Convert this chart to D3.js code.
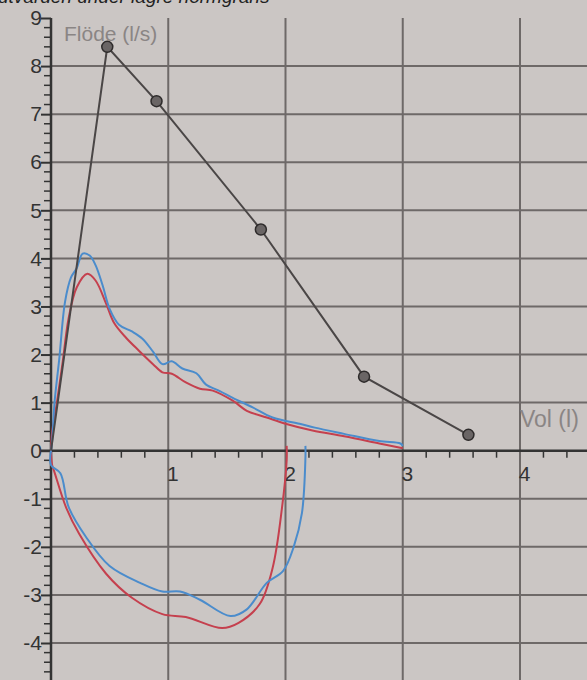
<!DOCTYPE html>
<html>
<head>
<meta charset="utf-8">
<script src="https://cdn.jsdelivr.net/npm/d3@7"></script>
<style>
  html, body { margin: 0; padding: 0; background: #cbc6c4; }
  svg { display: block; }
</style>
</head>
<body>
<div id="chart"></div>
<script>
// tick values
const xTicks = [1, 2, 3, 4];
const yTicks = [-4, -3, -2, -1, 0, 1, 2, 3, 4, 5, 6, 7, 8, 9];

// predicted (normal) curve, first point is the origin
const predVol = [0, 0.48, 0.9, 1.79, 2.67, 3.56];
const predFlow = [0, 8.4, 7.27, 4.6, 1.54, 0.33];

// red attempt
const redExpVol = [0, 0.01, 0.05, 0.1, 0.15, 0.22, 0.31, 0.38, 0.47, 0.54, 0.64, 0.75, 0.87, 0.95, 1.03, 1.15, 1.27, 1.38, 1.55, 1.67, 1.84, 2.0, 2.23, 2.5, 2.8, 3.0];
const redExpFlow = [0, 0.4, 1.0, 1.85, 2.75, 3.4, 3.68, 3.54, 3.06, 2.65, 2.35, 2.08, 1.8, 1.63, 1.6, 1.42, 1.29, 1.25, 1.04, 0.83, 0.69, 0.56, 0.42, 0.3, 0.15, 0.05];
const redInsVol = [0, 0.01, 0.03, 0.13, 0.24, 0.47, 0.69, 0.95, 1.15, 1.46, 1.6, 1.78, 1.89, 1.97, 2.01, 2.01];
const redInsFlow = [0, -0.3, -0.45, -1.19, -1.73, -2.56, -3.06, -3.4, -3.46, -3.69, -3.58, -3.19, -2.44, -1.19, -0.2, 0.1];

// blue attempt
const blueExpVol = [0, 0.01, 0.03, 0.07, 0.12, 0.17, 0.22, 0.27, 0.33, 0.38, 0.44, 0.5, 0.58, 0.69, 0.78, 0.87, 0.95, 1.03, 1.12, 1.24, 1.32, 1.44, 1.55, 1.72, 1.89, 2.12, 2.25, 2.5, 2.8, 2.98, 3.0];
const blueExpFlow = [0, 0.2, 1.0, 1.9, 3.1, 3.6, 3.8, 4.1, 4.06, 3.86, 3.44, 2.95, 2.62, 2.48, 2.33, 2.06, 1.8, 1.86, 1.71, 1.61, 1.38, 1.24, 1.1, 0.9, 0.69, 0.56, 0.48, 0.35, 0.2, 0.15, 0.1];
const blueInsVol = [0, 0.0, 0.08, 0.15, 0.3, 0.5, 0.76, 0.95, 1.1, 1.27, 1.53, 1.67, 1.84, 1.98, 2.07, 2.14, 2.17, 2.17];
const blueInsFlow = [0, -0.3, -0.47, -1.17, -1.8, -2.4, -2.75, -2.93, -2.93, -3.1, -3.44, -3.3, -2.75, -2.5, -2.0, -1.3, -0.15, 0.1];

const width = 587;
const height = 680;
const font = "Liberation Sans, Arial, sans-serif";

const svg = d3.select("#chart")
    .append("svg")
    .attr("width", width)
    .attr("height", height);

// scales
const x = d3.scaleLinear().domain([0, 4]).range([51, 520]);
const y = d3.scaleLinear().domain([-4, 9]).range([643, 18]);

// cut-off heading at top
svg.append("text")
    .attr("x", -2)
    .attr("y", 3)
    .style("font-family", font)
    .style("font-size", "19px")
    .style("font-style", "italic")
    .attr("fill", "#222")
    .text("utvärden under lägre normgräns");

// grid
const grid = svg.append("g").attr("stroke", "#6e6968").attr("stroke-width", 2);
grid.selectAll("line.v")
    .data(xTicks)
    .join("line")
    .attr("x1", d => x(d)).attr("x2", d => x(d))
    .attr("y1", 18).attr("y2", height);
grid.selectAll("line.h")
    .data(yTicks.filter(d => d !== 0 && d !== 9))
    .join("line")
    .attr("x1", x(0)).attr("x2", width)
    .attr("y1", d => y(d)).attr("y2", d => y(d));

// minor ticks
const yMinor = d3.range(-4.8, 9.01, 0.2).filter(d => Math.abs(d - Math.round(d)) > 0.01);
const xMinor = d3.range(0.2, 4.61, 0.2).filter(d => Math.abs(d - Math.round(d)) > 0.01);

// y axis
const yAxis = svg.append("g")
    .attr("transform", `translate(${x(0)},0)`)
    .call(d3.axisLeft(y).tickValues(yTicks).tickSize(10).tickFormat(d => String(d)));
yAxis.select(".domain").remove();
yAxis.append("line")
    .attr("x1", 0).attr("x2", 0)
    .attr("y1", y(9)).attr("y2", height)
    .attr("stroke", "#333").attr("stroke-width", 2.5);
yAxis.selectAll(".minor")
    .data(yMinor)
    .join("line")
    .attr("x1", -7).attr("x2", 0)
    .attr("y1", d => y(d)).attr("y2", d => y(d))
    .attr("stroke", "#333").attr("stroke-width", 1.5);
yAxis.selectAll(".tick line").attr("stroke", "#333").attr("stroke-width", 2);
yAxis.selectAll(".tick text")
    .attr("x", -9)
    .style("font-family", font)
    .style("font-size", "21px")
    .attr("fill", "#333");

// x axis
const xAxis = svg.append("g")
    .attr("transform", `translate(0,${y(0)})`)
    .call(d3.axisBottom(x).tickValues(xTicks).tickSize(0).tickPadding(15).tickFormat(d => String(d)));
xAxis.select(".domain").remove();
xAxis.append("line")
    .attr("x1", x(0) - 10).attr("x2", width)
    .attr("y1", 0).attr("y2", 0)
    .attr("stroke", "#333").attr("stroke-width", 2.5);
xAxis.selectAll(".minor")
    .data(xMinor)
    .join("line")
    .attr("x1", d => x(d)).attr("x2", d => x(d))
    .attr("y1", 0).attr("y2", 7)
    .attr("stroke", "#333").attr("stroke-width", 1.5);
xAxis.selectAll(".tick text")
    .attr("dx", 4)
    .style("font-family", font)
    .style("font-size", "21px")
    .attr("fill", "#333");

// axis titles
svg.append("text")
    .attr("x", 64).attr("y", 41)
    .style("font-family", font)
    .style("font-size", "21px")
    .attr("fill", "#8a8584")
    .text("Flöde (l/s)");
svg.append("text")
    .attr("x", 520).attr("y", 427)
    .style("font-family", font)
    .style("font-size", "23px")
    .attr("fill", "#8a8584")
    .text("Vol (l)");

// curves
const line = d3.line()
    .x(d => x(d[0]))
    .y(d => y(d[1]))
    .curve(d3.curveCatmullRom.alpha(0.5));

function drawCurve(vols, flows, color) {
    svg.append("path")
        .datum(d3.zip(vols, flows))
        .attr("fill", "none")
        .attr("stroke", color)
        .attr("stroke-width", 2)
        .attr("stroke-linejoin", "round")
        .attr("d", line);
}

drawCurve(redExpVol, redExpFlow, "#c5404e");
drawCurve(redInsVol, redInsFlow, "#c5404e");
drawCurve(blueExpVol, blueExpFlow, "#4b8ccc");
drawCurve(blueInsVol, blueInsFlow, "#4b8ccc");

// predicted line with markers
const pred = d3.zip(predVol, predFlow);
svg.append("path")
    .datum(pred)
    .attr("fill", "none")
    .attr("stroke", "#4a4646")
    .attr("stroke-width", 2)
    .attr("d", d3.line().x(d => x(d[0])).y(d => y(d[1])));
svg.selectAll("circle.pred")
    .data(pred.slice(1))
    .join("circle")
    .attr("cx", d => x(d[0]))
    .attr("cy", d => y(d[1]))
    .attr("r", 5.5)
    .attr("fill", "#6a6565")
    .attr("stroke", "#2e2b2b")
    .attr("stroke-width", 1.5);
</script>
</body>
</html>
